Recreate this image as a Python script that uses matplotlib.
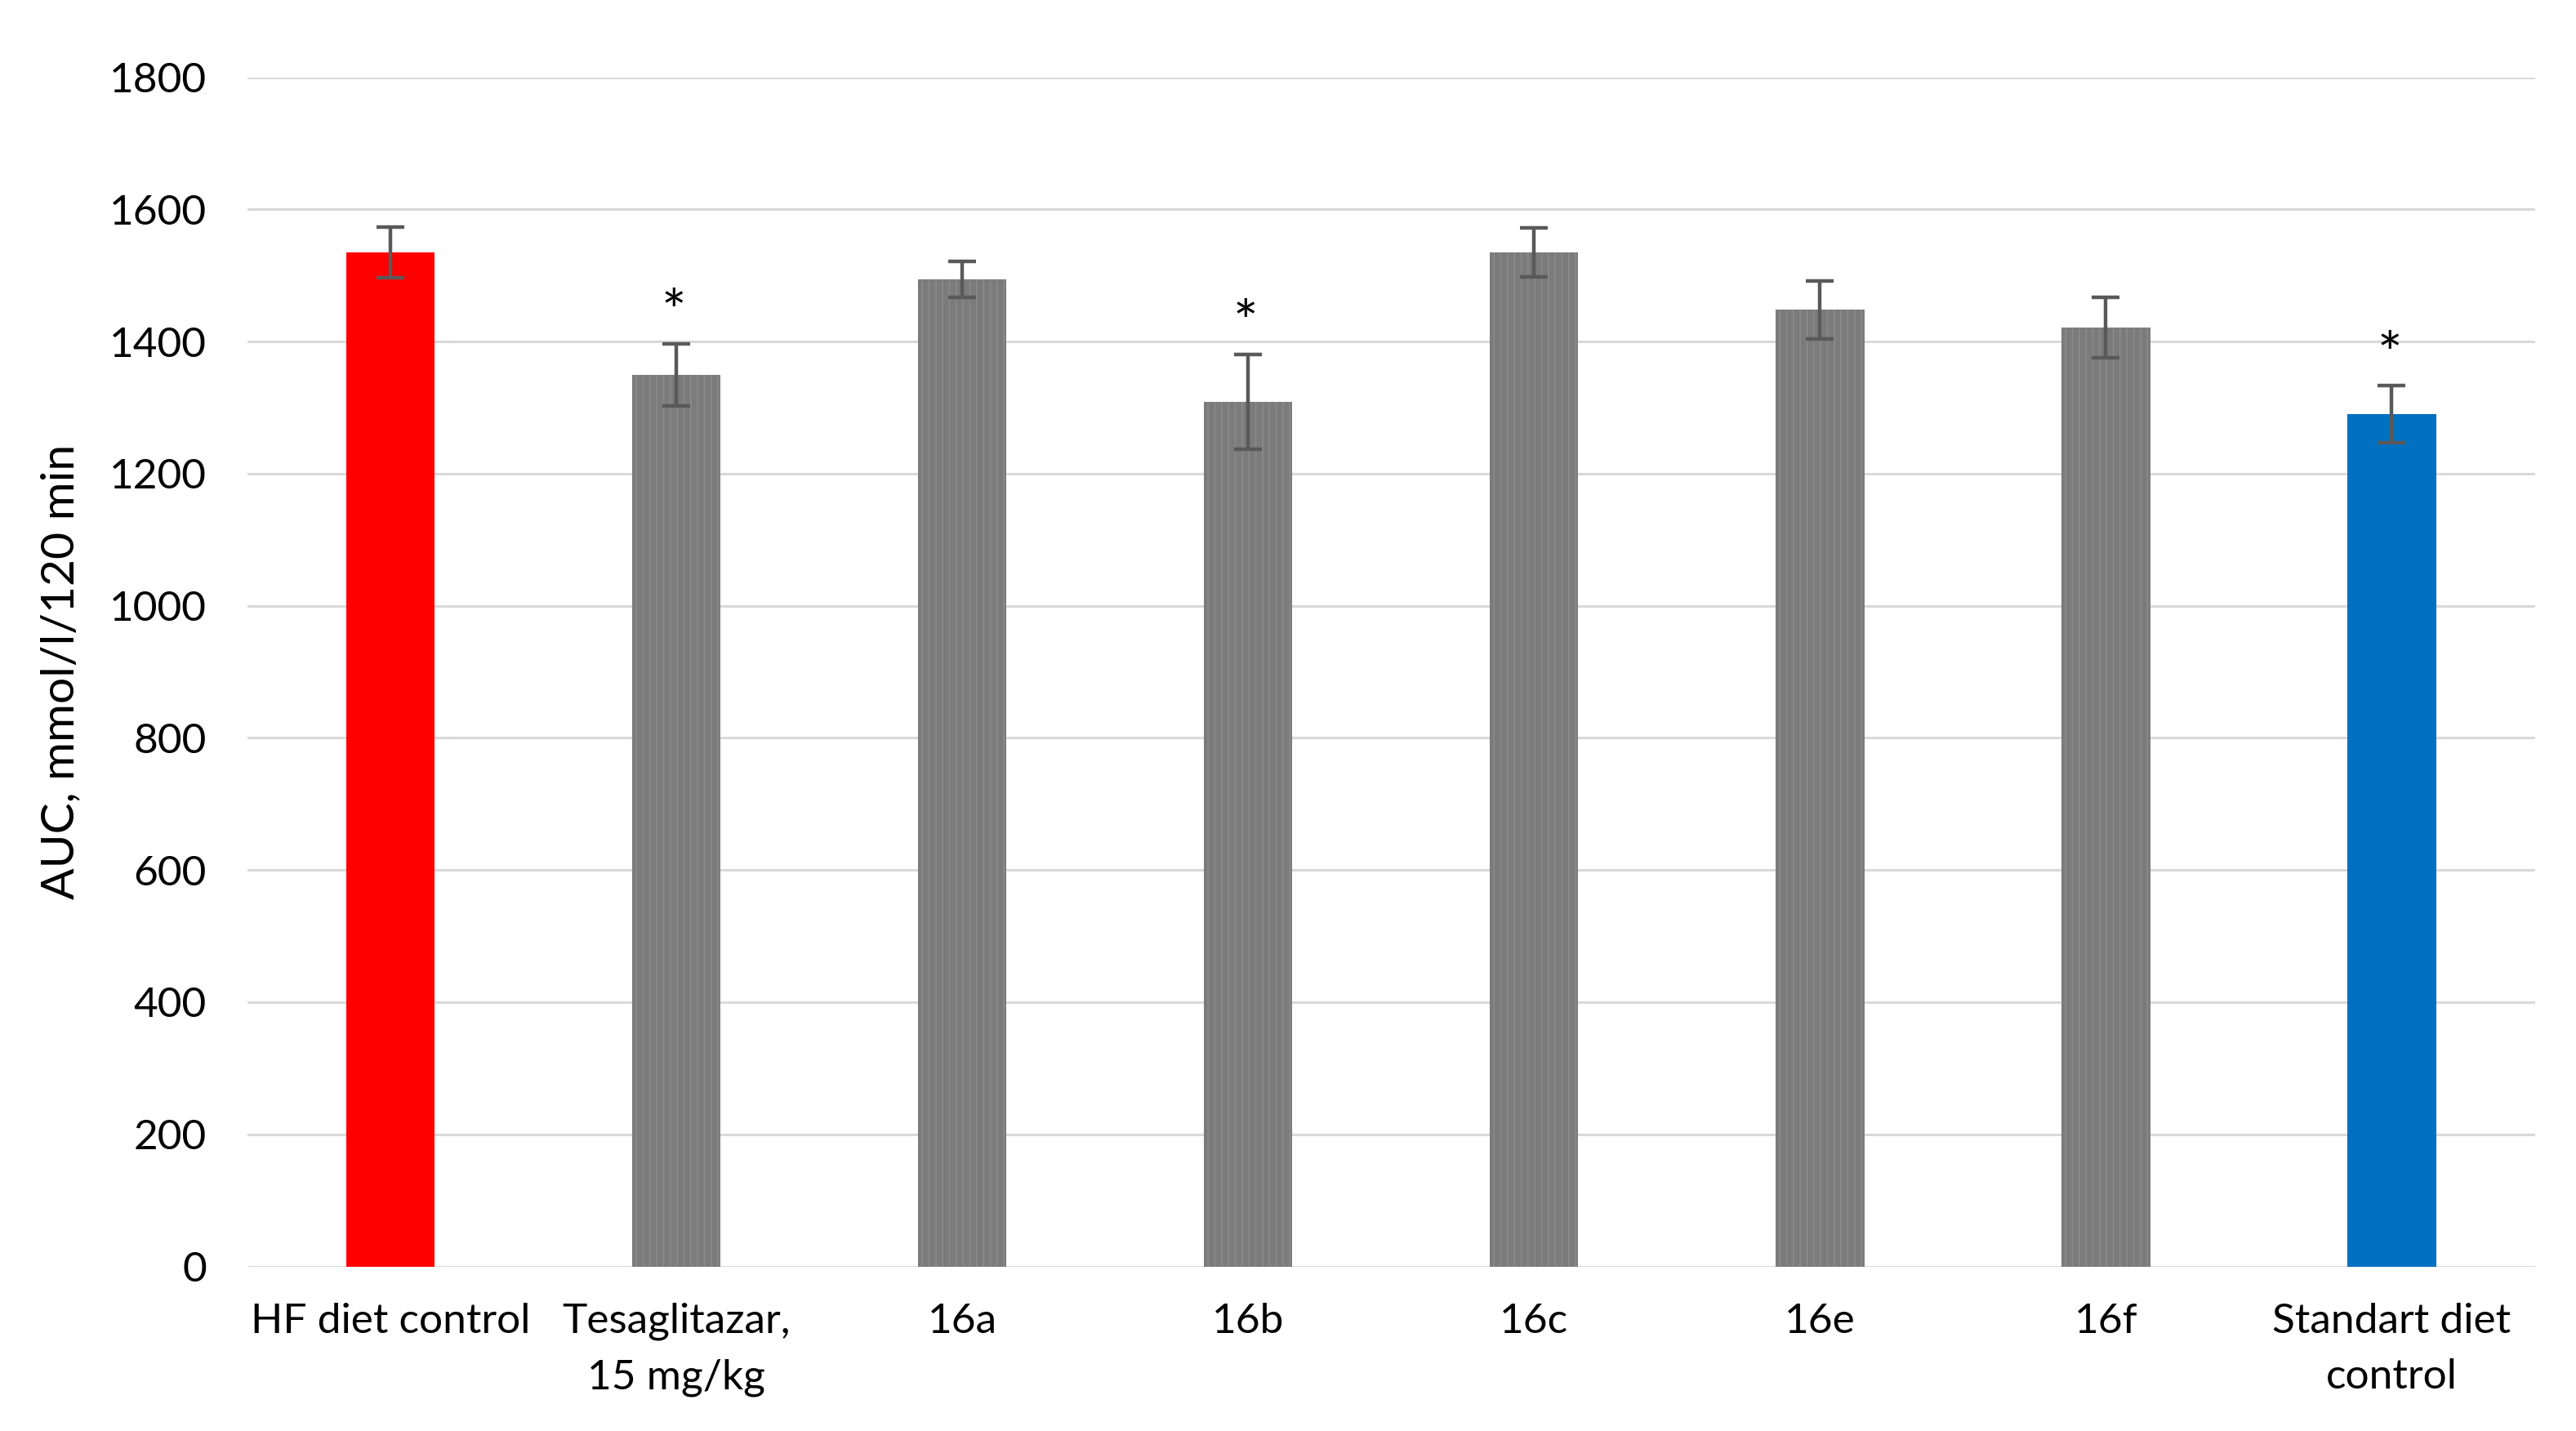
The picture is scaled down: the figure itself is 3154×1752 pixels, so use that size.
import matplotlib.pyplot as plt
import numpy as np

plt.rcParams["font.family"] = ["Lato", "DejaVu Sans"]
plt.rcParams["hatch.linewidth"] = 0.6

# Data
groups = ["HF diet control", "Tesaglitazar,\n15 mg/kg", "16a", "16b", "16c", "16e", "16f",
          "Standart diet\ncontrol"]
auc = [1535, 1350, 1494, 1309, 1535, 1448, 1421, 1290]
auc_err = [38, 47, 27, 72, 37, 44, 46, 43]
significant = [False, True, False, True, False, False, False, True]
bar_colors = ["#ff0000", "#7b7b7b", "#7b7b7b", "#7b7b7b", "#7b7b7b", "#7b7b7b", "#7b7b7b", "#0070c0"]
patterned = [False, True, True, True, True, True, True, False]

fig = plt.figure(figsize=(15.77, 8.76), dpi=200)
ax = fig.add_axes([0.096, 0.115, 0.888, 0.831])

x = np.arange(len(groups))
for xi, val, col, pat in zip(x, auc, bar_colors, patterned):
    ax.bar(xi, val, width=0.31, color=col, zorder=2,
           hatch="||||" if pat else None,
           edgecolor="#8a8a8a" if pat else col, linewidth=0)

ax.errorbar(x, auc, yerr=auc_err, fmt="none", ecolor="#595959", elinewidth=1.6,
            capsize=6, capthick=1.6, zorder=3)

# significance marks
for xi, val, err, sig in zip(x, auc, auc_err, significant):
    if sig:
        ax.annotate("*", (xi, val + err), xytext=(-1, 1), textcoords="offset points",
                    ha="center", va="bottom", fontsize=26, color="black")

ax.set_xlim(-0.5, len(groups) - 0.5)
ax.set_ylim(0, 1800)
ax.set_yticks(np.arange(0, 1801, 200))
ax.set_xticks(x)
ax.set_xticklabels(groups, fontsize=18.5, linespacing=1.6)
ax.tick_params(axis="y", labelsize=18.5, length=0, pad=18)
ax.tick_params(axis="x", length=0, pad=16)
ax.yaxis.grid(True, color="#d9d9d9", linewidth=1.1, zorder=0)
ax.set_axisbelow(True)
for s in ax.spines.values():
    s.set_visible(False)

ax.set_ylabel("AUC, mmol/l/120 min", fontsize=20.5, labelpad=12)

fig.savefig("out.png", dpi=200)
